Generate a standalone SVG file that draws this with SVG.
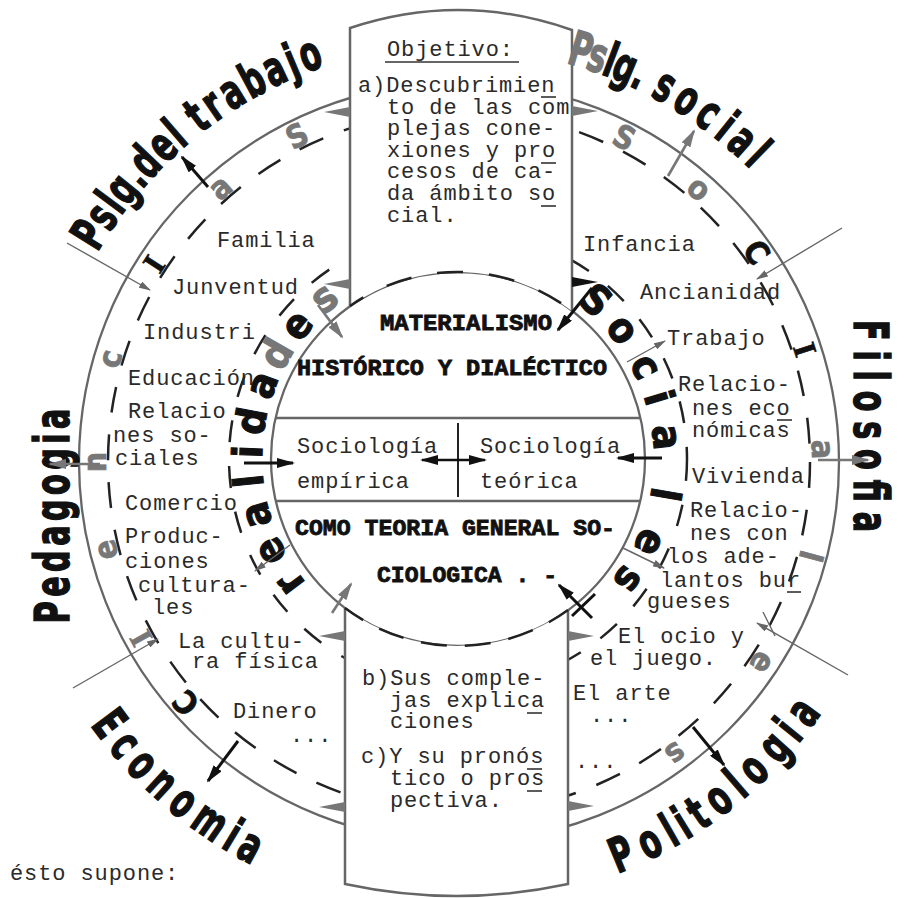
<svg xmlns="http://www.w3.org/2000/svg" width="905" height="898" viewBox="0 0 905 898">
<style>
.tw{font-family:"Liberation Mono","DejaVu Sans Mono",monospace;font-size:22px;letter-spacing:0.9px;fill:#2a2a2a}
.hd{font-family:"Liberation Mono","DejaVu Sans Mono",monospace;font-weight:bold;font-size:22px;fill:#111;stroke:#111;stroke-width:0.8}
.big{font-family:"DejaVu Sans Condensed","Liberation Sans Narrow","Liberation Sans",sans-serif;font-weight:bold;font-size:48px;fill:#111;stroke:#111;stroke-width:1.4}
.bl{font-family:"DejaVu Sans Condensed","Liberation Sans Narrow","Liberation Sans",sans-serif;font-weight:bold;font-size:48px;fill:#111;stroke:#111;stroke-width:1.4;text-anchor:middle}
.rg{font-family:"DejaVu Sans Condensed","Liberation Sans Narrow","Liberation Sans",sans-serif;font-weight:bold;font-size:32px;fill:#777;stroke:#777;stroke-width:0.7;text-anchor:middle}
.ri{font-family:"DejaVu Sans Condensed","Liberation Sans Narrow","Liberation Sans",sans-serif;font-weight:bold;font-size:41px;fill:#111;stroke:#111;stroke-width:1.1;text-anchor:middle}
.k{fill:#111;stroke:#111}
.g{fill:#777;stroke:#777}
.ser{font-family:"Liberation Serif",serif}
.solid{fill:none;stroke:#666;stroke-width:2.3}
.dash{fill:none;stroke:#222;stroke-width:2.5}
.ab{stroke:#111;stroke-width:3;fill:none;marker-end:url(#hb)}
.ag{stroke:#777;stroke-width:2.6;fill:none;marker-end:url(#hg)}
.at{stroke:#666;stroke-width:1.4;fill:none;marker-end:url(#ht)}
.ul{stroke:#333;stroke-width:1.6}
</style>
<defs>
<marker id="hb" viewBox="0 0 18 10" refX="16" refY="5" markerWidth="18" markerHeight="10" markerUnits="userSpaceOnUse" orient="auto-start-reverse"><path d="M0,0 L18,5 L0,10 z" fill="#111"/></marker>
<marker id="hg" viewBox="0 0 18 10" refX="16" refY="5" markerWidth="18" markerHeight="10" markerUnits="userSpaceOnUse" orient="auto"><path d="M0,0 L18,5 L0,10 z" fill="#777"/></marker>
<marker id="ht" viewBox="0 0 12 7" refX="11" refY="3.5" markerWidth="12" markerHeight="7" markerUnits="userSpaceOnUse" orient="auto"><path d="M0,0 L12,3.5 L0,7 z" fill="#666"/></marker>
</defs>

<g id="circles">
<circle class="solid" cx="459" cy="462" r="380"/>
<circle class="dash" cx="459" cy="462" r="351" stroke-dasharray="26 22"/>
<circle class="dash" cx="458" cy="459" r="229" stroke-dasharray="22 24"/>
<circle class="solid" cx="458" cy="459" r="187"/>
<line class="solid" x1="275" y1="418" x2="641" y2="418"/>
<line class="solid" x1="275" y1="501" x2="641" y2="501"/>
</g>

<g id="box-top">
<path d="M350,28 Q461,-9 572,30 L572,311 A187,187 0 0 0 350,306 Z" fill="#fff"/>
<path d="M350,306 L350,28 Q461,-9 572,30 L572,311" fill="none" stroke="#666" stroke-width="2.5"/>
<path class="dash" d="M350,306 A187,187 0 0 1 572,311" stroke-dasharray="26 26" stroke-dashoffset="10"/>
<text class="tw" x="387" y="56">Objetivo:</text>
<line class="ul" x1="385" y1="62" x2="519" y2="62"/>
<text class="tw" x="358" y="92">a)Descubrimien</text>
<line class="ul" x1="541" y1="97" x2="556" y2="97"/>
<text class="tw" x="387" y="114">to de las com</text>
<text class="tw" x="387" y="135">plejas cone-</text>
<text class="tw" x="387" y="157">xiones y pro</text>
<line class="ul" x1="541" y1="163" x2="556" y2="163"/>
<text class="tw" x="387" y="178">cesos de ca-</text>
<text class="tw" x="387" y="200">da ámbito so</text>
<line class="ul" x1="541" y1="206" x2="556" y2="206"/>
<text class="tw" x="387" y="222">cial.</text>
</g>

<g id="box-bottom">
<path d="M345,608 L345,884 Q457,908 568,884 L568,610 A187,187 0 0 1 345,608 Z" fill="#fff"/>
<path d="M345,608 L345,884 Q457,908 568,884 L568,610" fill="none" stroke="#666" stroke-width="2.5"/>
<path class="dash" d="M345,608 A187,187 0 0 0 568,610" stroke-dasharray="26 18" stroke-dashoffset="4"/>
<text class="tw" x="362" y="685">b)Sus comple-</text>
<text class="tw" x="390" y="707">jas explica</text>
<line class="ul" x1="527" y1="713" x2="542" y2="713"/>
<text class="tw" x="390" y="728">ciones</text>
<text class="tw" x="361" y="763">c)Y su pronós</text>
<line class="ul" x1="527" y1="769" x2="542" y2="769"/>
<text class="tw" x="390" y="785">tico o pros</text>
<line class="ul" x1="527" y1="791" x2="542" y2="791"/>
<text class="tw" x="390" y="807">pectiva.</text>
</g>

<g id="center">
<text class="hd" x="380" y="330" textLength="172" lengthAdjust="spacingAndGlyphs">MATERIALISMO</text>
<text class="hd" x="297" y="375" textLength="310" lengthAdjust="spacingAndGlyphs">HISTÓRICO Y DIALÉCTICO</text>
<text class="tw" x="297" y="453">Sociología</text>
<text class="tw" x="297" y="488">empírica</text>
<text class="tw" x="480" y="453">Sociología</text>
<text class="tw" x="480" y="488">teórica</text>
<line x1="458" y1="423" x2="458" y2="497" stroke="#222" stroke-width="2"/>
<text class="hd" x="295" y="535" textLength="320" lengthAdjust="spacingAndGlyphs">COMO TEORIA GENERAL SO-</text>
<text class="hd" x="377" y="582" textLength="180" lengthAdjust="spacingAndGlyphs">CIOLOGICA . -</text>
</g>

<g id="labels-left">
<text class="tw" x="217" y="247">Familia</text>
<text class="tw" x="172" y="294">Junventud</text>
<text class="tw" x="143" y="339">Industri</text>
<text class="tw" x="128" y="385">Educación</text>
<text class="tw" x="128" y="418">Relacio</text>
<text class="tw" x="113" y="442">nes so-</text>
<text class="tw" x="115" y="465">ciales</text>
<text class="tw" x="125" y="510">Comercio</text>
<text class="tw" x="125" y="543">Produc-</text>
<text class="tw" x="125" y="568">ciones</text>
<text class="tw" x="138" y="592">cultura-</text>
<text class="tw" x="152" y="614">les</text>
<text class="tw" x="178" y="648">La cultu-</text>
<text class="tw" x="192" y="668">ra física</text>
<text class="tw" x="233" y="718">Dinero</text>
<text class="tw" x="290" y="742">...</text>
</g>

<g id="labels-right">
<text class="tw" x="583" y="251">Infancia</text>
<text class="tw" x="640" y="299">Ancianidad</text>
<text class="tw" x="667" y="345">Trabajo</text>
<text class="tw" x="678" y="391">Relacio-</text>
<text class="tw" x="692" y="415">nes eco</text>
<line class="ul" x1="777" y1="420" x2="792" y2="420"/>
<text class="tw" x="692" y="437">nómicas</text>
<text class="tw" x="692" y="483">Vivienda</text>
<text class="tw" x="690" y="517">Relacio-</text>
<text class="tw" x="690" y="540">nes con</text>
<text class="tw" x="667" y="563">los ade-</text>
<text class="tw" x="660" y="587">lantos bur</text>
<line class="ul" x1="787" y1="592" x2="801" y2="592"/>
<text class="tw" x="647" y="608">gueses</text>
<text class="tw" x="618" y="643">El ocio y</text>
<text class="tw" x="590" y="665">el juego.</text>
<text class="tw" x="573" y="700">El arte</text>
<text class="tw" x="590" y="722">...</text>
<text class="tw" x="575" y="768">...</text>
</g>

<g id="ring-outer">
<text class="rg k" transform="translate(459,462) rotate(228.6) translate(0,-353)">C</text>
<text class="rg ser" transform="translate(459,462) rotate(241) translate(0,-353)">I</text>
<text class="rg" transform="translate(459,462) rotate(256) translate(0,-353)">e</text>
<text class="rg" transform="translate(459,462) rotate(270) translate(0,-353)">n</text>
<text class="rg" transform="translate(459,462) rotate(286.5) translate(0,-353)">c</text>
<text class="rg k ser" transform="translate(459,462) rotate(303) translate(0,-353)">I</text>
<text class="rg" transform="translate(459,462) rotate(319) translate(0,-353)">a</text>
<text class="rg" transform="translate(459,462) rotate(333.6) translate(0,-353)">S</text>
<text class="rg" transform="translate(459,462) rotate(27) translate(0,-353)">S</text>
<text class="rg" transform="translate(459,462) rotate(41.3) translate(0,-353)">o</text>
<text class="rg k" transform="translate(459,462) rotate(54.8) translate(0,-353)">C</text>
<text class="rg k ser" transform="translate(459,462) rotate(72) translate(0,-353)">I</text>
<text class="rg" transform="translate(459,462) rotate(88) translate(0,-353)">a</text>
<text class="rg" transform="translate(459,462) rotate(105) translate(0,-353)">l</text>
<text class="rg" transform="translate(459,462) rotate(123.5) translate(0,-353)">e</text>
<text class="rg" transform="translate(459,462) rotate(143.4) translate(0,-353)">s</text>
</g>

<g id="ring-inner">
<text class="ri" transform="translate(458,459) rotate(233.4) translate(0,-196)">r</text>
<text class="ri" transform="translate(458,459) rotate(243.8) translate(0,-196)">e</text>
<text class="ri" transform="translate(458,459) rotate(254.5) translate(0,-196)">a</text>
<text class="ri" transform="translate(458,459) rotate(264) translate(0,-196)">l</text>
<text class="ri" transform="translate(458,459) rotate(272) translate(0,-196)">i</text>
<text class="ri" transform="translate(458,459) rotate(280.4) translate(0,-196)">d</text>
<text class="ri" transform="translate(458,459) rotate(290.7) translate(0,-196)">a</text>
<text class="ri g" transform="translate(458,459) rotate(300) translate(0,-196)">d</text>
<text class="ri" transform="translate(458,459) rotate(309.7) translate(0,-196)">e</text>
<text class="ri g" transform="translate(458,459) rotate(320.3) translate(0,-196)">s</text>
<text class="ri" transform="translate(458,459) rotate(41) translate(0,-196)">S</text>
<text class="ri" transform="translate(458,459) rotate(51.8) translate(0,-196)">o</text>
<text class="ri" transform="translate(458,459) rotate(63.8) translate(0,-196)">c</text>
<text class="ri" transform="translate(458,459) rotate(73) translate(0,-196)">i</text>
<text class="ri" transform="translate(458,459) rotate(84) translate(0,-196)">a</text>
<text class="ri" transform="translate(458,459) rotate(99.7) translate(0,-196)">l</text>
<text class="ri" transform="translate(458,459) rotate(113.5) translate(0,-196)">e</text>
<text class="ri" transform="translate(458,459) rotate(125.3) translate(0,-196)">s</text>
</g>

<g id="label-trabajo">
<text class="bl" transform="translate(459,462) rotate(301.6) translate(0,-418) scale(0.7,1)">P</text>
<text class="bl" transform="translate(459,462) rotate(304.5) translate(0,-418) scale(0.7,1)">s</text>
<text class="bl" transform="translate(459,462) rotate(306.7) translate(0,-418) scale(0.7,1)">l</text>
<text class="bl" transform="translate(459,462) rotate(309.0) translate(0,-418) scale(0.7,1)">g</text>
<text class="bl" transform="translate(459,462) rotate(311.4) translate(0,-418) scale(0.7,1)">.</text>
<text class="bl" transform="translate(459,462) rotate(313.7) translate(0,-418) scale(0.7,1)">d</text>
<text class="bl" transform="translate(459,462) rotate(316.8) translate(0,-418) scale(0.7,1)">e</text>
<text class="bl" transform="translate(459,462) rotate(319.2) translate(0,-418) scale(0.7,1)">l</text>
<text class="bl" transform="translate(459,462) rotate(322.8) translate(0,-418) scale(0.7,1)">t</text>
<text class="bl" transform="translate(459,462) rotate(325.4) translate(0,-418) scale(0.7,1)">r</text>
<text class="bl" transform="translate(459,462) rotate(328.4) translate(0,-418) scale(0.7,1)">a</text>
<text class="bl" transform="translate(459,462) rotate(331.6) translate(0,-418) scale(0.7,1)">b</text>
<text class="bl" transform="translate(459,462) rotate(334.8) translate(0,-418) scale(0.7,1)">a</text>
<text class="bl" transform="translate(459,462) rotate(337.3) translate(0,-418) scale(0.7,1)">j</text>
<text class="bl" transform="translate(459,462) rotate(339.9) translate(0,-418) scale(0.7,1)">o</text>
</g>

<g id="label-social">
<text class="bl g" transform="translate(459,462) rotate(16.5) translate(0,-413) scale(0.7,1)">P</text>
<text class="bl g" transform="translate(459,462) rotate(18.9) translate(0,-413) scale(0.7,1)">s</text>
<text class="bl" transform="translate(459,462) rotate(20.7) translate(0,-413) scale(0.7,1)">l</text>
<text class="bl" transform="translate(459,462) rotate(22.8) translate(0,-413) scale(0.7,1)">g</text>
<text class="bl" transform="translate(459,462) rotate(25.0) translate(0,-413) scale(0.7,1)">.</text>
<text class="bl" transform="translate(459,462) rotate(28.7) translate(0,-413) scale(0.7,1)">s</text>
<text class="bl" transform="translate(459,462) rotate(32.2) translate(0,-413) scale(0.7,1)">o</text>
<text class="bl" transform="translate(459,462) rotate(35.6) translate(0,-413) scale(0.7,1)">c</text>
<text class="bl" transform="translate(459,462) rotate(38.6) translate(0,-413) scale(0.7,1)">i</text>
<text class="bl" transform="translate(459,462) rotate(41.4) translate(0,-413) scale(0.7,1)">a</text>
<text class="bl" transform="translate(459,462) rotate(44.2) translate(0,-413) scale(0.7,1)">l</text>
</g>

<g id="label-filosofia">
<text class="big" text-anchor="middle" transform="translate(854,426) rotate(90) scale(0.7,1)" textLength="303" lengthAdjust="spacing">Filosofia</text>
</g>
<g id="label-pedagogia">
<text class="big" text-anchor="middle" transform="translate(69,516) rotate(-90) scale(0.7,1)" textLength="307" lengthAdjust="spacing">Pedagogia</text>
</g>

<g id="label-economia">
<text class="bl" transform="translate(459,462) rotate(53.2) translate(0,453) scale(0.7,1)">E</text>
<text class="bl" transform="translate(459,462) rotate(49.75) translate(0,453) scale(0.7,1)">c</text>
<text class="bl" transform="translate(459,462) rotate(46.3) translate(0,453) scale(0.7,1)">o</text>
<text class="bl" transform="translate(459,462) rotate(42.7) translate(0,453) scale(0.7,1)">n</text>
<text class="bl" transform="translate(459,462) rotate(39) translate(0,453) scale(0.7,1)">o</text>
<text class="bl" transform="translate(459,462) rotate(34.7) translate(0,453) scale(0.7,1)">m</text>
<text class="bl" transform="translate(459,462) rotate(31.2) translate(0,453) scale(0.7,1)">i</text>
<text class="bl" transform="translate(459,462) rotate(28.5) translate(0,453) scale(0.7,1)">a</text>
</g>

<g id="label-politologia">
<text class="bl" transform="translate(459,462) rotate(-22.5) translate(0,441) scale(0.7,1)">P</text>
<text class="bl" transform="translate(459,462) rotate(-26.6) translate(0,441) scale(0.7,1)">o</text>
<text class="bl" transform="translate(459,462) rotate(-29.7) translate(0,441) scale(0.7,1)">l</text>
<text class="bl" transform="translate(459,462) rotate(-31.7) translate(0,441) scale(0.7,1)">i</text>
<text class="bl" transform="translate(459,462) rotate(-34.2) translate(0,441) scale(0.7,1)">t</text>
<text class="bl" transform="translate(459,462) rotate(-37.6) translate(0,441) scale(0.7,1)">o</text>
<text class="bl" transform="translate(459,462) rotate(-40.7) translate(0,441) scale(0.7,1)">l</text>
<text class="bl" transform="translate(459,462) rotate(-43.8) translate(0,441) scale(0.7,1)">o</text>
<text class="bl" transform="translate(459,462) rotate(-47.9) translate(0,441) scale(0.7,1)">g</text>
<text class="bl" transform="translate(459,462) rotate(-50.9) translate(0,441) scale(0.7,1)">i</text>
<text class="bl" transform="translate(459,462) rotate(-54) translate(0,441) scale(0.7,1)">a</text>
</g>

<g id="note">
<text class="tw" x="10" y="880">ésto supone:</text>
</g>

<g id="connectors">
<polygon points="350,107 350,117 324,112" fill="#777"/>
<polygon points="350,279 350,289 324,284" fill="#777"/>
<polygon points="572,106 572,116 598,111" fill="#777"/>
<polygon points="572,277 572,287 598,282" fill="#111"/>
<polygon points="345,631 345,641 319,636" fill="#777"/>
<polygon points="345,802 345,812 319,807" fill="#777"/>
<polygon points="568,631 568,641 594,636" fill="#777"/>
<polygon points="568,801 568,811 594,806" fill="#777"/>
<line class="ab" x1="208" y1="187" x2="182" y2="157"/>
<line class="ag" x1="668" y1="176" x2="694" y2="131"/>
<line class="ag" x1="818" y1="460" x2="868" y2="460"/>
<line class="ag" x1="100" y1="464" x2="50" y2="464"/>
<line class="ab" x1="693" y1="727" x2="724" y2="765"/>
<line class="ab" x1="238" y1="741" x2="208" y2="781"/>
<line class="at" x1="67" y1="243" x2="150" y2="290"/>
<line class="at" x1="842" y1="228" x2="757" y2="279"/>
<line class="at" x1="848" y1="675" x2="757" y2="623"/>
<line x1="763" y1="612" x2="775" y2="636" stroke="#666" stroke-width="1.4"/>
<line class="at" x1="73" y1="688" x2="158" y2="639"/>
<line class="ag" x1="318" y1="305" x2="342" y2="337"/>
<line class="ab" x1="592" y1="288" x2="558" y2="330"/>
<line class="ab" x1="244" y1="463" x2="293" y2="463"/>
<line class="ab" x1="662" y1="458" x2="618" y2="458"/>
<line x1="422" y1="460" x2="485" y2="460" stroke="#111" stroke-width="2.5" marker-start="url(#hb)" marker-end="url(#hb)"/>
<line class="ag" x1="332" y1="613" x2="351" y2="584"/>
<line class="ab" x1="592" y1="618" x2="559" y2="585"/>
<line x1="572" y1="616" x2="595" y2="594" stroke="#111" stroke-width="3"/>
<line class="at" x1="627" y1="362" x2="665" y2="341"/>
<line class="at" x1="623" y1="548" x2="664" y2="568"/>
<line class="at" x1="290" y1="545" x2="255" y2="571"/>
</g>
</svg>
